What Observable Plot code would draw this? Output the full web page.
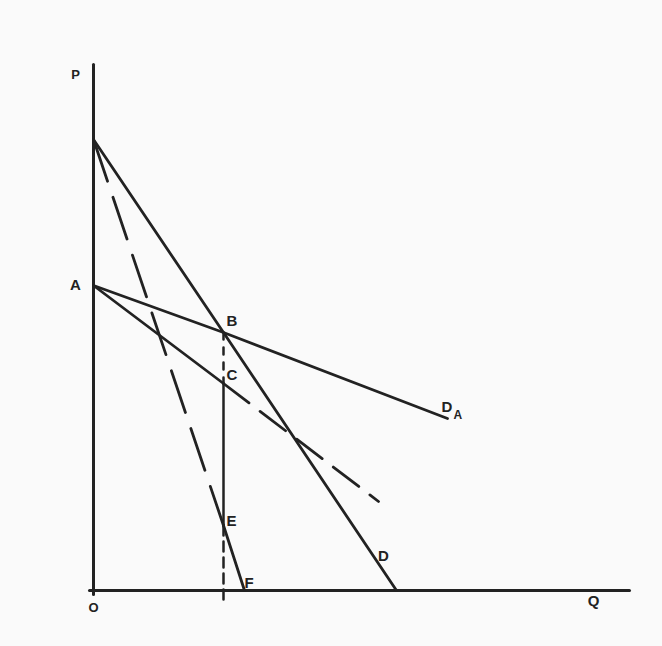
<!DOCTYPE html>
<html>
<head>
<meta charset="utf-8">
<script src="https://cdn.jsdelivr.net/npm/d3@7"></script>
<script src="https://cdn.jsdelivr.net/npm/@observablehq/plot@0.6"></script>
<style>
  html, body { margin: 0; padding: 0; background: #fafafa; }
  #chart svg { display: block; background: #fafafa; }
</style>
</head>
<body>
<div id="chart"></div>
<script>
// Key points of the diagram (Q = quantity, P = price)
const axisP = [{q: 0, p: -4}, {q: 0, p: 526}];
const axisQ = [{q: -4, p: 0}, {q: 536, p: 0}];
// Market demand D (solid)
const demandD = [{q: 0, p: 451}, {q: 130, p: 258}, {q: 303, p: 0}];
// Market marginal revenue: dashed top part to E, solid E to F
const mrDashed = [{q: 0, p: 451}, {q: 130, p: 65}];
const mrSolid = [{q: 130, p: 65}, {q: 151, p: 0}];
// Demand D_A (solid) from A through B
const demandA = [{q: 0, p: 305}, {q: 130, p: 258}, {q: 354, p: 172}];
// Line from A through C: solid to C, dashed after
const mrASolid = [{q: 0, p: 305}, {q: 130, p: 207}];
const mrADashed = [{q: 130, p: 207}, {q: 285, p: 89}];
// Vertical through B: dashed B-C, solid C-E, dashed E-axis
const vertBC = [{q: 130, p: 258}, {q: 130, p: 207}];
const vertCE = [{q: 130, p: 207}, {q: 130, p: 65}];
const vertEO = [{q: 130, p: 65}, {q: 130, p: -9}];

const pt = {
  P: {q: 0, p: 526}, A: {q: 0, p: 305}, B: {q: 130, p: 258}, C: {q: 130, p: 207},
  DA: {q: 354, p: 172}, D: {q: 303, p: 0}, E: {q: 130, p: 65}, F: {q: 151, p: 0},
  O: {q: 0, p: 0}, Q: {q: 500, p: 0}
};

const ink = "#222222";
const font = "'Liberation Sans', Arial, sans-serif";
const lab = (key, text, opts) => Plot.text([pt[key]], {
  x: "q", y: "p", text: () => text, fill: ink, fontSize: 15, fontWeight: "bold",
  fontFamily: font, ...opts
});
const seg = (data, opts) => Plot.line(data, {x: "q", y: "p", stroke: ink, strokeWidth: 2.8, ...opts});

const chart = Plot.plot({
  width: 662,
  height: 646,
  marginLeft: 93,
  marginRight: 31,
  marginTop: 64,
  marginBottom: 56,
  x: {domain: [0, 538], axis: null},
  y: {domain: [0, 526], axis: null},
  style: {background: "#fafafa", fontFamily: font},
  marks: [
    seg(axisP, {strokeWidth: 3}),
    seg(axisQ, {strokeWidth: 3}),
    seg(demandD),
    seg(mrDashed, {strokeDasharray: "44,17"}),
    seg(mrSolid),
    seg(demandA),
    seg(mrASolid),
    seg(mrADashed, {strokeDasharray: "32,14"}),
    seg(vertBC, {strokeDasharray: "7,8", strokeWidth: 2.5}),
    seg(vertCE, {strokeWidth: 2.5}),
    seg(vertEO, {strokeDasharray: "10,6", strokeWidth: 2.5}),
    lab("P", "P", {dx: -18, dy: 10, fontSize: 13}),
    lab("A", "A", {dx: -18, dy: 0}),
    lab("B", "B", {dx: 3, dy: -11, textAnchor: "start"}),
    lab("C", "C", {dx: 3, dy: -8, textAnchor: "start"}),
    lab("DA", "D", {dx: -6, dy: -11, textAnchor: "start"}),
    lab("DA", "A", {dx: 6, dy: -3, textAnchor: "start", fontSize: 12}),
    lab("D", "D", {dx: -13, dy: -34}),
    lab("E", "E", {dx: 3, dy: -4, textAnchor: "start"}),
    lab("F", "F", {dx: 0, dy: -7, textAnchor: "start"}),
    lab("O", "O", {dx: 0, dy: 17, fontSize: 13}),
    lab("Q", "Q", {dx: 0, dy: 11})
  ]
});
document.getElementById("chart").appendChild(chart);
</script>
</body>
</html>
